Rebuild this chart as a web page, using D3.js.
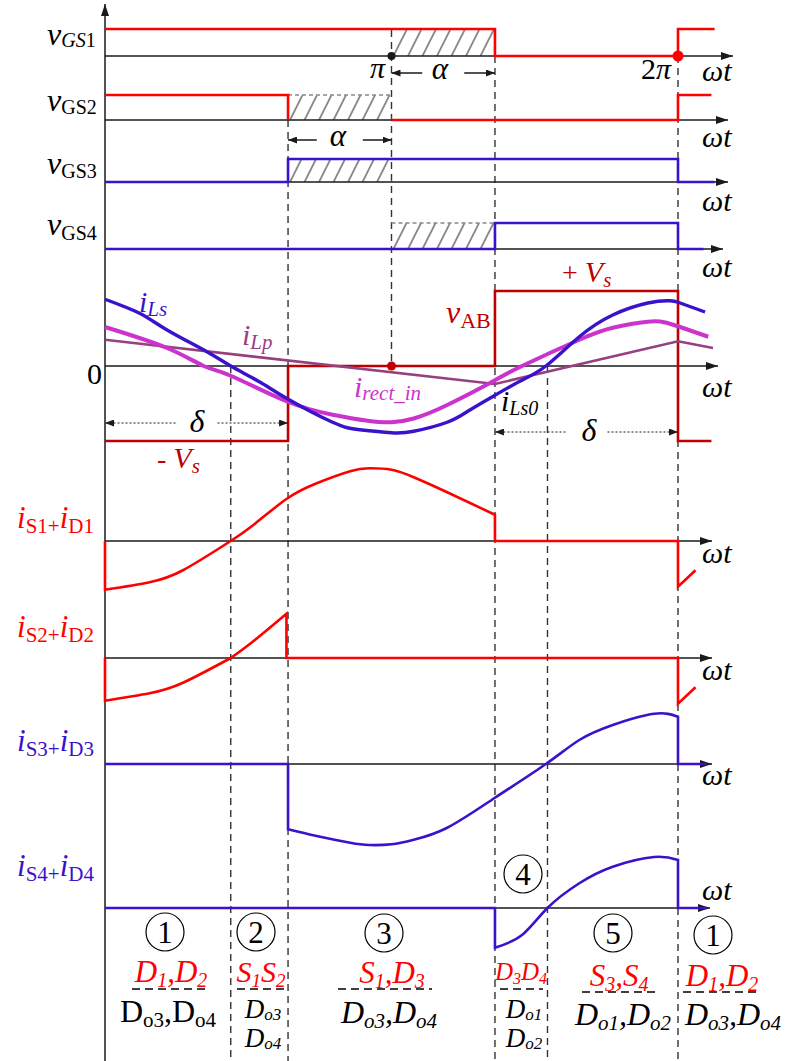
<!DOCTYPE html>
<html>
<head>
<meta charset="utf-8">
<script src="https://cdn.jsdelivr.net/npm/d3@7"></script>
<style>
  html, body { margin: 0; padding: 0; background: #fff; }
  svg, svg text { font-family: "Liberation Serif", "Times New Roman", Times, serif; }
</style>
</head>
<body>
<svg id="chart" width="785" height="1061"></svg>
<script>
// ---------------- waveform data (angles in electrical degrees of ωt) ----------------
// gate signals: [angle, level] with level 1 = on, 0 = off, null = break in the trace
const vGS1 = [[0, 1], [245, 1], [245, 0], [360, 0], [360, 1], [383, 1]];
const vGS2 = [[0, 1], [115, 1], [115, 0], [115, null], [180, 0], [360, 0], [360, 1], [381, 1]];
const vGS3 = [[0, 0], [115, 0], [115, 1], [360, 1], [360, 0], [383, 0]];
const vGS4 = [[0, 0], [245, 0], [245, 1], [360, 1], [360, 0], [376, 0]];
// dead-time (hatched) spans for each gate signal
const hatchSpans = [[180, 245], [115, 180], [115, 180], [180, 245]];

// bridge voltage, in units of Vs
const vAB = [[0, -1], [115, -1], [115, 0], [245, 0], [245, 1], [360, 1], [360, -1], [381, -1]];
// series inductor current
const iLs = [[0, 0.89], [22, 0.70], [39, 0.48], [64, 0.19], [79, 0], [97, -0.21], [114, -0.43],
             [143, -0.75], [160, -0.85], [180, -0.89], [194, -0.87], [215, -0.75], [229, -0.59],
             [245, -0.39], [261, -0.20], [277, 0], [298, 0.39], [319, 0.68], [341, 0.84],
             [355, 0.87], [360, 0.85], [360, 0.85], [377, 0.72]];
// rectifier input current
const iRectIn = [[0, 0.52], [39, 0.24], [62, 0], [79, -0.13], [114, -0.47], [143, -0.65],
                 [165, -0.73], [180, -0.75], [194, -0.70], [215, -0.52], [245, -0.19], [262, 0],
                 [298, 0.35], [319, 0.51], [341, 0.59], [352, 0.58], [360, 0.53], [360, 0.53], [379, 0.39]];
// parallel (magnetising) inductor current
const iLp = [[0, 0.35], [245, -0.24], [360, 0.33], [382, 0.24]];

// switch + diode currents
const iS1D1 = [[0, 0], [0, -0.65], [28, -0.55], [49, -0.39], [79, 0], [79, 0], [93, 0.21], [114, 0.56],
               [133, 0.77], [154, 0.93], [166, 0.97], [180, 0.95], [194, 0.85], [215, 0.65],
               [245, 0.35], [245, 0], [360, 0], [360, -0.61], [371, -0.39]];
const iS2D2 = [[0, 0], [0, -0.57], [28, -0.47], [49, -0.33], [79, 0], [79, 0], [93, 0.22], [114, 0.59],
               [114, 0], [360, 0], [360, -0.61], [371, -0.39]];
const iS3D3 = [[0, 0], [115, 0], [115, -0.87], [133, -0.96], [154, -1.05], [166, -1.08],
               [180, -1.07], [194, -1.01], [215, -0.85], [245, -0.45], [277, 0], [298, 0.32],
               [319, 0.52], [345, 0.67], [360, 0.63], [360, 0], [378, 0]];
const iS4D4 = [[0, 0], [245, 0], [245, -0.53], [262, -0.36], [278, 0], [298, 0.33],
               [319, 0.55], [345, 0.68], [360, 0.64], [360, 0], [378, 0]];

// phase markers on the time axis
const phaseTicks = [180, 360];
const phaseTickLabels = ["π", "2π"];
// interval boundaries (vertical guides)
const guideAngles = [180, 115, 245, 360, 79, 278];
// conduction intervals
const intervalNumbers = ["1", "2", "3", "4", "5", "1"];

// ---------------- drawing ----------------
const SERIF = "'Liberation Serif', 'Times New Roman', Times, serif";
const svg = d3.select("#chart").attr("font-family", SERIF);
const x = d3.scaleLinear().domain([0, 360]).range([105, 678]);

const RED = "#ff0000", BLUE = "#3a12cc", DRED = "#c00000", MAG = "#cc33cc", PUR = "#96407f";
const AX = "#1a1a1a", GUIDE = "#333";

const defs = svg.append("defs");
defs.append("marker").attr("id", "arr").attr("viewBox", "0 0 12 8")
  .attr("refX", 12).attr("refY", 4).attr("markerWidth", 12).attr("markerHeight", 8)
  .attr("markerUnits", "userSpaceOnUse").attr("orient", "auto")
  .append("path").attr("d", "M0,0L12,4L0,8Z").attr("fill", AX);
defs.append("marker").attr("id", "sarr").attr("viewBox", "0 0 9 7")
  .attr("refX", 9).attr("refY", 3.5).attr("markerWidth", 9).attr("markerHeight", 7)
  .attr("markerUnits", "userSpaceOnUse").attr("orient", "auto-start-reverse")
  .append("path").attr("d", "M0,0L9,3.5L0,7Z").attr("fill", AX);

// path builder: splits where the angle repeats (jumps / corners), smooths each piece
function wavePath(pts, y, curve) {
  const pieces = [];
  let cur = [pts[0]];
  for (let i = 1; i < pts.length; i++) {
    if (pts[i][0] === pts[i - 1][0]) { pieces.push(cur); cur = [pts[i]]; }
    else cur.push(pts[i]);
  }
  pieces.push(cur);
  const gen = d3.line().x(d => x(d[0])).y(d => y(d[1])).curve(curve);
  return pieces.map((p, i) => {
    const s = p.length > 1 ? gen(p) : `M${x(p[0][0])},${y(p[0][1])}`;
    return i ? "L" + s.slice(1) : s;
  }).join("");
}

// rich text with sub/superscript parts: [text, size, italic, dy]
function rich(px, py, parts, color, anchor) {
  const t = svg.append("text").attr("x", px).attr("y", py).attr("fill", color)
    .attr("font-family", SERIF).attr("text-anchor", anchor || "start");
  let cur = 0;
  parts.forEach(p => {
    const off = p[3] || 0;
    t.append("tspan").text(p[0]).attr("font-size", p[1])
      .attr("font-style", p[2] ? "italic" : "normal").attr("dy", off - cur);
    cur = off;
  });
  return t;
}
function plain(px, py, str, size, italic, anchor, color) {
  return svg.append("text").attr("x", px).attr("y", py).attr("font-family", SERIF)
    .attr("font-size", size).attr("font-style", italic ? "italic" : "normal")
    .attr("text-anchor", anchor || "start").attr("fill", color || "#000").text(str);
}

// vertical dashed guides
const guideTop = [30, 120, 56, 56, 366, 366];
const guideBottom = [366, 1061, 1061, 1061, 1061, 1061];
guideAngles.forEach((a, i) => {
  svg.append("line").attr("x1", x(a)).attr("x2", x(a))
    .attr("y1", guideTop[i]).attr("y2", guideBottom[i])
    .attr("stroke", GUIDE).attr("stroke-width", 1.4).attr("stroke-dasharray", "7,5");
});

// left vertical axis
svg.append("line").attr("x1", 105).attr("x2", 105).attr("y1", 1061).attr("y2", 4)
  .attr("stroke", AX).attr("stroke-width", 1.5).attr("marker-end", "url(#arr)");

// ---------- gate signal panels ----------
const gateAxisY = [56, 120, 182, 249];
const gateHighY = [29, 95, 159, 223];
const gateAxisEnd = [733, 728, 728, 723];
const gateData = [vGS1, vGS2, vGS3, vGS4];
const gateColor = [RED, RED, BLUE, BLUE];
const hatchTopDashed = [false, true, false, true];

gateData.forEach((data, i) => {
  const y = d3.scaleLinear().domain([0, 1]).range([gateAxisY[i], gateHighY[i]]);
  const [h0, h1] = hatchSpans[i];
  const clipId = "hclip" + i;
  defs.append("clipPath").attr("id", clipId).append("rect")
    .attr("x", x(h0)).attr("y", y(1)).attr("width", x(h1) - x(h0)).attr("height", y(0) - y(1));
  const hg = svg.append("g").attr("clip-path", `url(#${clipId})`);
  const hh = y(0) - y(1);
  for (let px = x(h0) + 2; px < x(h1) + 2; px += 14.5) {
    hg.append("line").attr("x1", px).attr("y1", y(0)).attr("x2", px + hh * 0.5).attr("y2", y(1))
      .attr("stroke", "#888").attr("stroke-width", 1.8);
  }
  if (hatchTopDashed[i]) {
    svg.append("line").attr("x1", x(h0)).attr("x2", x(h1)).attr("y1", y(1)).attr("y2", y(1))
      .attr("stroke", "#888").attr("stroke-width", 1.5).attr("stroke-dasharray", "4,3");
  }
  svg.append("line").attr("x1", 105).attr("x2", gateAxisEnd[i]).attr("y1", y(0)).attr("y2", y(0))
    .attr("stroke", AX).attr("stroke-width", 1.5).attr("marker-end", "url(#arr)");
  const gen = d3.line().defined(d => d[1] !== null).x(d => x(d[0])).y(d => y(d[1]));
  svg.append("path").attr("d", gen(data)).attr("fill", "none")
    .attr("stroke", gateColor[i]).attr("stroke-width", 2.6);
});

// phase markers π, 2π
svg.append("circle").attr("cx", x(phaseTicks[0])).attr("cy", 56).attr("r", 4).attr("fill", AX);
svg.append("circle").attr("cx", x(phaseTicks[1])).attr("cy", 56).attr("r", 5.5).attr("fill", RED);
plain(x(phaseTicks[0]) - 14, 78, phaseTickLabels[0], 30, true, "middle");
rich(x(phaseTicks[1]) - 22, 79, [["2", 30, 0], ["π", 30, 1]], "#000", "middle");

// dimension arrows (α, δ)
function dimArrow(a0, a1, yy, gapHalf, dotted) {
  const mid = (x(a0) + x(a1)) / 2;
  [[x(a0), mid - gapHalf], [x(a1), mid + gapHalf]].forEach(([from, to]) => {
    svg.append("line").attr("x1", to).attr("x2", from).attr("y1", yy).attr("y2", yy)
      .attr("stroke", AX).attr("stroke-width", dotted ? 1 : 1.5)
      .attr("stroke-dasharray", dotted ? "2,2" : null)
      .attr("marker-end", "url(#sarr)");
  });
}
dimArrow(180, 245, 73, 21, false);
plain(440, 79, "α", 31, true, "middle");
dimArrow(115, 180, 140, 23, false);
plain(338, 146, "α", 31, true, "middle");

// gate labels
rich(47, 45, [["v", 32, 1], ["GS", 20, 1, 2], ["1", 20, 0, 2]], "#000");
rich(47, 111, [["v", 32, 1], ["GS2", 20, 0, 3]], "#000");
rich(47, 174, [["v", 32, 1], ["GS3", 20, 0, 4]], "#000");
rich(47, 235, [["v", 32, 1], ["GS4", 20, 0, 5]], "#000");

// ωt labels
const wtY = [81, 147, 211, 277, 397, 563, 680, 785, 900];
wtY.forEach(yy => plain(702, yy, "ωt", 30, true));

// ---------- bridge voltage and currents ----------
const ym = d3.scaleLinear().domain([-1, 1]).range([441, 291]);
svg.append("line").attr("x1", 105).attr("x2", 718).attr("y1", ym(0)).attr("y2", ym(0))
  .attr("stroke", AX).attr("stroke-width", 1.5).attr("marker-end", "url(#arr)");

svg.append("path").attr("d", wavePath(vAB, ym, d3.curveLinear)).attr("fill", "none")
  .attr("stroke", DRED).attr("stroke-width", 2.6);
svg.append("path").attr("d", wavePath(iLp, ym, d3.curveLinear)).attr("fill", "none")
  .attr("stroke", PUR).attr("stroke-width", 2.6);
svg.append("path").attr("d", wavePath(iRectIn, ym, d3.curveNatural)).attr("fill", "none")
  .attr("stroke", MAG).attr("stroke-width", 4);
svg.append("path").attr("d", wavePath(iLs, ym, d3.curveNatural)).attr("fill", "none")
  .attr("stroke", BLUE).attr("stroke-width", 3.4);
svg.append("circle").attr("cx", x(180)).attr("cy", ym(0)).attr("r", 4.5).attr("fill", DRED);

dimArrow(0, 115, 423, 21, true);
plain(197, 432, "δ", 32, true, "middle");
dimArrow(245, 360, 432, 21, true);
plain(589, 441, "δ", 32, true, "middle");

plain(87, 384, "0", 30, false);
rich(139, 312, [["i", 30, 1], ["Ls", 21, 1, 4]], BLUE);
rich(242, 345, [["i", 30, 1], ["Lp", 21, 1, 4]], PUR);
rich(354, 397, [["i", 30, 1], ["rect_in", 21, 1, 3]], MAG);
rich(501, 411, [["i", 30, 1], ["Ls0", 20, 1, 4]], "#000");
rich(446, 323, [["v", 32, 1], ["AB", 22, 0, 5]], DRED);
rich(562, 282, [["+ ", 28, 0], ["V", 30, 1], ["s", 21, 1, 5]], DRED);
rich(157, 468, [["- ", 28, 0], ["V", 30, 1], ["s", 21, 1, 5]], DRED);

// ---------- switch current panels ----------
const curZero = [541, 658, 764, 908];
const curAxisEnd = [712, 712, 712, 710];
const curData = [iS1D1, iS2D2, iS3D3, iS4D4];
const curColor = [RED, RED, BLUE, BLUE];
curData.forEach((data, i) => {
  const y = d3.scaleLinear().domain([-1, 1]).range([curZero[i] + 75, curZero[i] - 75]);
  svg.append("line").attr("x1", 105).attr("x2", curAxisEnd[i]).attr("y1", y(0)).attr("y2", y(0))
    .attr("stroke", AX).attr("stroke-width", 1.5).attr("marker-end", "url(#arr)");
  svg.append("path").attr("d", wavePath(data, y, d3.curveNatural)).attr("fill", "none")
    .attr("stroke", curColor[i]).attr("stroke-width", 2.6);
});

const curLabelY = [528, 637, 751, 876];
const curNames = [["S1+", "D1"], ["S2+", "D2"], ["S3+", "D3"], ["S4+", "D4"]];
curNames.forEach((n, i) => {
  rich(17, curLabelY[i], [["i", 31, 1], [n[0], 21, 0, 5], ["i", 31, 1, 0], [n[1], 21, 0, 5]], curColor[i]);
});

// ---------- conduction intervals ----------
const circX = [165, 256, 384, 523, 613, 713];
const circY = [932, 932, 933, 874, 933, 935];
intervalNumbers.forEach((n, i) => {
  svg.append("circle").attr("cx", circX[i]).attr("cy", circY[i]).attr("r", 19)
    .attr("fill", "none").attr("stroke", "#000").attr("stroke-width", 1.2);
  svg.append("text").attr("x", circX[i]).attr("y", circY[i] + 11).attr("text-anchor", "middle")
    .attr("font-family", "Lato, 'Open Sans', sans-serif").attr("font-size", 31).text(n);
});

// conducting devices (primary side / rectifier side)
rich(171, 982, [["D", 31, 1], ["1", 20, 1, 5], [",D", 31, 1, 0], ["2", 20, 1, 5]], RED, "middle");
rich(261, 982, [["S", 30, 1], ["1", 19, 1, 5], ["S", 30, 1, 0], ["2", 19, 1, 5]], RED, "middle");
rich(392, 983, [["S", 31, 1], ["1", 20, 1, 5], [",D", 31, 1, 0], ["3", 20, 1, 5]], RED, "middle");
rich(521, 980, [["D", 25, 1], ["3", 16, 1, 4], ["D", 25, 1, 0], ["4", 16, 1, 4]], RED, "middle");
rich(619, 986, [["S", 31, 1], ["3", 20, 1, 5], [",S", 31, 1, 0], ["4", 20, 1, 5]], RED, "middle");
rich(722, 986, [["D", 31, 1], ["1", 20, 1, 5], [",D", 31, 1, 0], ["2", 20, 1, 5]], RED, "middle");

rich(168, 1022, [["D", 32, 0], ["o3", 21, 0, 5], [",D", 32, 0, 0], ["o4", 21, 0, 5]], "#000", "middle");
rich(263, 1018, [["D", 27, 1], ["o3", 17, 1, 2]], "#000", "middle");
rich(263, 1047, [["D", 27, 1], ["o4", 17, 1, 2]], "#000", "middle");
rich(389, 1023, [["D", 32, 1], ["o3", 21, 1, 5], [",D", 32, 1, 0], ["o4", 21, 1, 5]], "#000", "middle");
rich(524, 1018, [["D", 27, 1], ["o1", 17, 1, 2]], "#000", "middle");
rich(524, 1047, [["D", 27, 1], ["o2", 17, 1, 2]], "#000", "middle");
rich(623, 1025, [["D", 32, 1], ["o1", 21, 1, 5], [",D", 32, 1, 0], ["o2", 21, 1, 5]], "#000", "middle");
rich(733, 1025, [["D", 32, 1], ["o3", 21, 1, 5], [",D", 32, 1, 0], ["o4", 21, 1, 5]], "#000", "middle");

// dashed separators between the two device rows
const sepX0 = [132, 237, 338, 500, 582, 683];
const sepX1 = [210, 285, 432, 543, 658, 760];
const sepY = [989, 989, 989, 989, 992, 992];
sepX0.forEach((x0, i) => {
  svg.append("line").attr("x1", x0).attr("x2", sepX1[i]).attr("y1", sepY[i]).attr("y2", sepY[i])
    .attr("stroke", "#000").attr("stroke-width", 1.4).attr("stroke-dasharray", "8,5");
});
</script>
</body>
</html>
